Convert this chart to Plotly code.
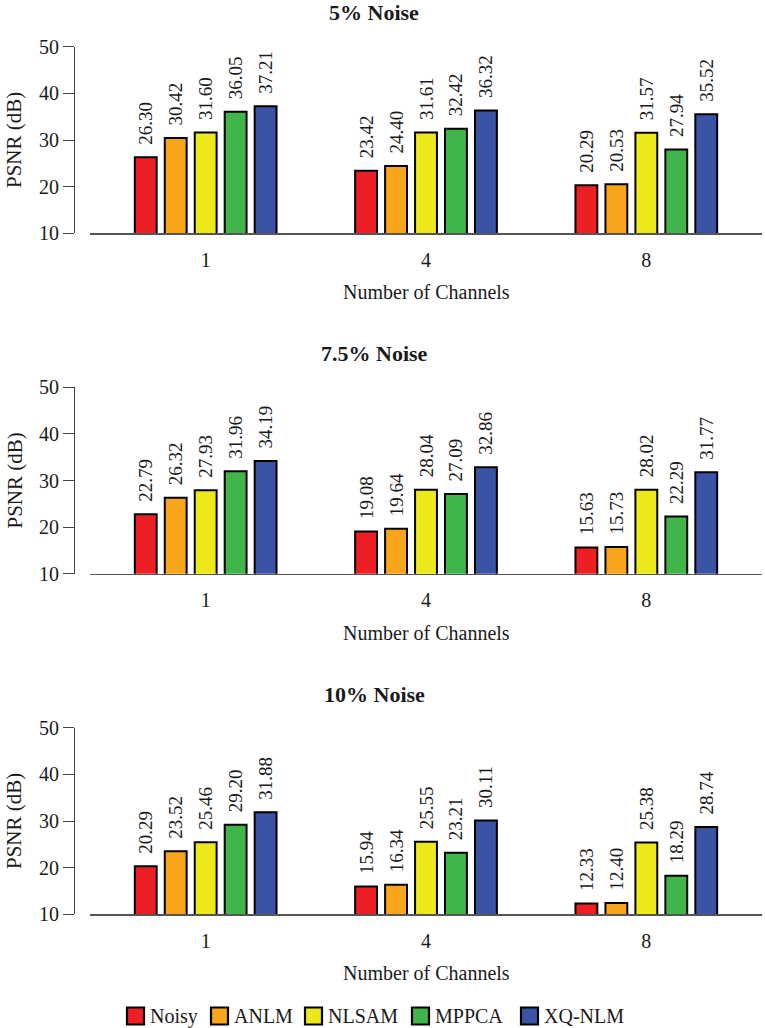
import plotly.graph_objects as go

channels = ["1", "4", "8"]
methods = ["Noisy", "ANLM", "NLSAM", "MPPCA", "XQ-NLM"]
colors = ["#ED1F24", "#F8A51B", "#ECE81A", "#40B54A", "#3A53A4"]
panel_titles = ["5% Noise", "7.5% Noise", "10% Noise"]

# values per method, for channels 1, 4, 8
noise_5 = {
    "Noisy":  [26.30, 23.42, 20.29],
    "ANLM":   [30.42, 24.40, 20.53],
    "NLSAM":  [31.60, 31.61, 31.57],
    "MPPCA":  [36.05, 32.42, 27.94],
    "XQ-NLM": [37.21, 36.32, 35.52],
}
noise_7_5 = {
    "Noisy":  [22.79, 19.08, 15.63],
    "ANLM":   [26.32, 19.64, 15.73],
    "NLSAM":  [27.93, 28.04, 28.02],
    "MPPCA":  [31.96, 27.09, 22.29],
    "XQ-NLM": [34.19, 32.86, 31.77],
}
noise_10 = {
    "Noisy":  [20.29, 15.94, 12.33],
    "ANLM":   [23.52, 16.34, 12.40],
    "NLSAM":  [25.46, 25.55, 25.38],
    "MPPCA":  [29.20, 23.21, 18.29],
    "XQ-NLM": [31.88, 30.11, 28.74],
}
panels = [noise_5, noise_7_5, noise_10]
y_ticks = [10, 20, 30, 40, 50]

W, H = 765, 1028
FONT = "Liberation Serif"
TXT = "#1a1a1a"

fig = go.Figure()
layout = dict(
    width=W, height=H,
    margin=dict(l=0, r=0, t=0, b=0, pad=0),
    paper_bgcolor="white", plot_bgcolor="white",
    barmode="group", bargap=0.32, bargroupgap=0.27,
    font=dict(family=FONT, size=20, color=TXT),
    showlegend=False,
)
annotations = []
shapes = []

x_left, x_right = 90, 762
y_axis_px = 74
for p, data in enumerate(panels):
    top = 46.7 + 340.5 * p
    bot = 233.3 + 340.5 * p
    xa = "x" if p == 0 else f"x{p+1}"
    ya = "y" if p == 0 else f"y{p+1}"
    for m, col in zip(methods, colors):
        vals = data[m]
        fig.add_trace(go.Bar(
            x=channels, y=vals, name=m,
            marker=dict(color=col, line=dict(color="black", width=2)),
            text=["\u00a0\u00a0" + f"{v:.2f}" for v in vals],
            textposition="outside", textangle=-90,
            textfont=dict(family=FONT, size=19, color=TXT),
            constraintext="none",
            legendgroup=m, showlegend=False, hoverinfo="skip",
            xaxis=xa, yaxis=ya,
        ))
    layout[f"xaxis{'' if p == 0 else p+1}"] = dict(
        domain=[x_left / W, x_right / W], anchor=ya,
        type="category", range=[-0.525, 2.525],
        showline=True, linecolor="#555555", linewidth=1.3,
        ticks="outside", ticklen=8, tickcolor="rgba(0,0,0,0)",
        tickfont=dict(family=FONT, size=20, color=TXT),
        showgrid=False, zeroline=False, fixedrange=True, automargin=False,
    )
    layout[f"yaxis{'' if p == 0 else p+1}"] = dict(
        domain=[1 - bot / H, 1 - top / H], anchor="free",
        position=y_axis_px / W, range=[10, 50],
        tickvals=y_ticks, ticks="outside", ticklen=11, tickwidth=1,
        tickcolor="#444444",
        showline=True, linecolor="#444444", linewidth=1,
        tickfont=dict(family=FONT, size=20, color=TXT),
        showgrid=False, zeroline=False, fixedrange=True, automargin=False,
    )
    annotations.append(dict(
        text=f"<b>{panel_titles[p]}</b>", xref="paper", yref="paper",
        x=374 / W, y=1 - (13 + 340.5 * p) / H, xanchor="center", yanchor="middle",
        showarrow=False, font=dict(family=FONT, size=22, color=TXT)))
    annotations.append(dict(
        text="Number of Channels", xref="paper", yref="paper",
        x=426 / W, y=1 - (292 + 340.5 * p) / H, xanchor="center", yanchor="middle",
        showarrow=False, font=dict(family=FONT, size=20, color=TXT)))
    annotations.append(dict(
        text="PSNR (dB)", xref="paper", yref="paper", textangle=-90,
        x=14 / W, y=1 - ((top + bot) / 2) / H, xanchor="center", yanchor="middle",
        showarrow=False, font=dict(family=FONT, size=21, color=TXT)))

# legend (drawn as boxes + text at the bottom of the figure)
legend_left = [127, 211, 305, 412, 521]
legend_cy = 1016
sq = 17
for m, col, lx in zip(methods, colors, legend_left):
    shapes.append(dict(
        type="rect", xref="paper", yref="paper",
        x0=lx / W, x1=(lx + sq) / W,
        y0=1 - (legend_cy + sq / 2) / H, y1=1 - (legend_cy - sq / 2) / H,
        fillcolor=col, line=dict(color="black", width=2.2)))
    annotations.append(dict(
        text=m, xref="paper", yref="paper",
        x=(lx + sq + 4) / W, y=1 - legend_cy / H, xanchor="left", yanchor="middle",
        showarrow=False, font=dict(family=FONT, size=20, color=TXT)))

layout["annotations"] = annotations
layout["shapes"] = shapes
fig.update_layout(**layout)
fig.write_html("out.html",
               config={"displayModeBar": False, "staticPlot": True},
               post_script="document.body.style.margin='0';document.body.style.overflow='hidden';")
